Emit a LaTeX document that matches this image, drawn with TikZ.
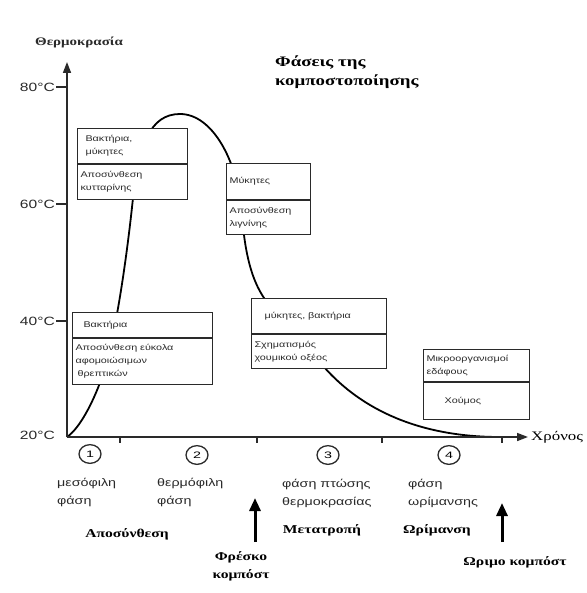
\documentclass[tikz,border=0pt]{standalone}
\usepackage{fontspec}
\setmainfont{Liberation Serif}
\setsansfont{Liberation Sans}
\newfontfamily\gsans[FakeStretch=1.3]{Liberation Sans}
\newfontfamily\gserif[FakeStretch=1.3]{Liberation Serif}
\newfontfamily\gserifb[FakeStretch=1.3]{Liberation Serif Bold}
\usetikzlibrary{arrows.meta}
\definecolor{ink}{HTML}{2A2A2A}
\begin{document}
\begin{tikzpicture}[x=1pt,y=-1pt,
  part/.style={draw=ink, line width=1.1pt, fill=white, inner xsep=3pt, inner ysep=1pt,
    anchor=north west, align=left, text=ink, font=\gsans\fontsize{8.3}{13}\selectfont},
  axisline/.style={draw=ink, line width=1.6pt},
  curveline/.style={draw=black, line width=1.8pt},
  ticklab/.style={anchor=east, inner sep=1pt, text=ink, font=\gsans\fontsize{12}{14}\selectfont},
  phaselab/.style={anchor=north west, align=left, inner sep=0pt, text=ink, font=\gsans\fontsize{11}{18.5}\selectfont},
  boldlab/.style={inner sep=0pt, text=black, font=\gserifb\fontsize{12}{18}\selectfont},
  numcirc/.style={draw=ink, line width=1.3pt, shape=circle, minimum size=22pt, inner sep=0pt, yscale=0.85, font=\gsans\fontsize{11}{11}\selectfont},
  bigarrow/.style={draw=black, line width=3pt, -{Triangle[length=13pt,width=11pt]}},
  axisarrow/.style={-{Triangle[length=11pt,width=8pt]}}
]
\useasboundingbox (0,0) rectangle (586,593);
\fill[white] (0,0) rectangle (586,593);

% axes coordinates
\coordinate (O) at (67,437);
\coordinate (ytop) at (67,62);
\coordinate (xend) at (528,437);

% temperature curve (behind boxes)
\draw[curveline] (O) .. controls (80,428) and (93,402) .. (101,380)
  .. controls (114,345) and (126,265) .. (133,198)
  .. controls (139,145) and (150,114) .. (180,114)
  .. controls (212,114) and (238,160) .. (242,215)
  .. controls (245,255) and (252,280) .. (264,298)
  .. controls (282,325) and (303,345) .. (324,367)
  .. controls (362,410) and (420,437) .. (500,437);

% axes
\draw[axisline, axisarrow] (O) -- (ytop);
\draw[axisline, axisarrow] (O) -- (xend);

% y labels and ticks
\node[ticklab] (t80) at (56,87) {80°C};
\node[ticklab] (t60) at (56,204) {60°C};
\node[ticklab] (t40) at (56,321) {40°C};
\node[ticklab] (t20) at (56,435) {20°C};
\coordinate (a80) at (67,87);
\coordinate (a60) at (67,204);
\coordinate (a40) at (67,321);
\draw[axisline, line width=1.3pt] (t80.east) -- (a80);
\draw[axisline, line width=1.3pt] (t60.east) -- (a60);
\draw[axisline, line width=1.3pt] (t40.east) -- (a40);

% x ticks
\foreach \xx in {120,257,382,502} {
  \draw[axisline, line width=1.3pt] (\xx,437) -- (\xx,443);
}

\node[anchor=west, inner sep=2pt, text=black, font=\gserif\fontsize{13}{14}\selectfont] (xlab) at (529,437) {Χρόνος};
\node[anchor=south west, inner sep=0pt, text=ink, font=\gserifb\fontsize{11.5}{12}\selectfont] (ylab) at (35,48) {Θερμοκρασία};

% title
\node[anchor=north west, align=left, inner sep=0pt, font=\gserifb\fontsize{14.5}{19}\selectfont] (title) at (275,56) {Φάσεις της\\κομποστοποίησης};

% boxes
\node[part, text width=104pt, minimum height=35pt] (b1u) at (77,128) {\hspace{5pt}Βακτήρια,\\\hspace{5pt}μύκητες};
\node[part, text width=104pt, minimum height=35pt] (b1l) at (b1u.south west) {Αποσύνθεση\\κυτταρίνης};

\node[part, text width=78pt, minimum height=36pt] (b2u) at (226,163) {Μύκητες};
\node[part, text width=78pt, minimum height=34pt] (b2l) at (b2u.south west) {Αποσύνθεση\\λιγνίνης};

\node[part, text width=134pt, minimum height=25pt] (b3u) at (72,312) {\hspace{8pt}Βακτήρια};
\node[part, text width=134pt, minimum height=46pt] (b3l) at (b3u.south west) {Αποσύνθεση εύκολα\\αφομοιώσιμων\\\hspace{2pt}θρεπτικών};

\node[part, text width=129pt, minimum height=35pt] (b4u) at (251,298) {\hspace{10pt}μύκητες, βακτήρια};
\node[part, text width=129pt, minimum height=34pt] (b4l) at (b4u.south west) {Σχηματισμός\\χουμικού οξέος};

\node[part, text width=100pt, minimum height=32pt] (b5u) at (423,349) {Μικροοργανισμοί\\εδάφους};
\node[part, text width=100pt, minimum height=37pt] (b5l) at (b5u.south west) {\hspace{18pt}Χούμος};

% phase numbers
\node[numcirc] (n1) at (90,454) {1};
\node[numcirc] (n2) at (197,455) {2};
\node[numcirc] (n3) at (328,455) {3};
\node[numcirc] (n4) at (449,455) {4};

% phase labels
\node[phaselab] (p1) at (57,478) {μεσόφιλη\\φάση};
\node[phaselab] (p2) at (157,478) {θερμόφιλη\\φάση};
\node[phaselab] (p3) at (282,479) {φάση πτώσης\\θερμοκρασίας};
\node[phaselab] (p4) at (408,479) {φάση\\ωρίμανσης};

% bold stage labels
\node[boldlab] (s1) at (127,534) {Αποσύνθεση};
\node[boldlab] (s2) at (322,530) {Μετατροπή};
\node[boldlab] (s3) at (437,530) {Ωρίμανση};
\node[boldlab, align=center] (fresh) at (241,566) {Φρέσκο\\κομπόστ};
\node[boldlab] (ripe) at (515,562) {Ωριμο κομπόστ};

% thick arrows
\coordinate (fa) at (255,542);
\coordinate (fb) at (255,498);
\coordinate (ra) at (502,542);
\coordinate (rb) at (502,503);
\draw[bigarrow] (fa) -- (fb);
\draw[bigarrow] (ra) -- (rb);
\end{tikzpicture}
\end{document}
